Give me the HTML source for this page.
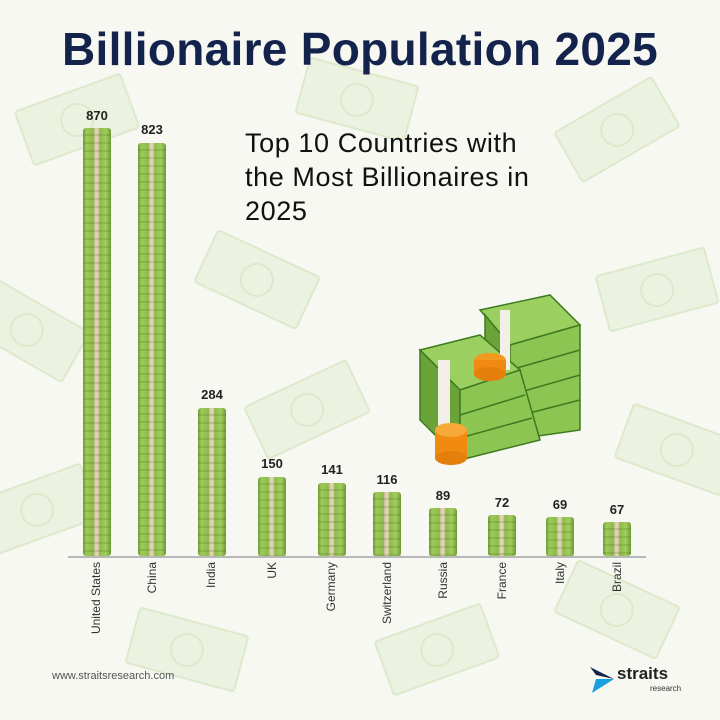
<!DOCTYPE html>
<html><head><style>
body{margin:0}
#c{width:720px;height:720px;position:relative;overflow:hidden;background:#f6f8f1;font-family:"Liberation Sans",sans-serif}
.bill{position:absolute;width:110px;height:55px;border:2px solid #dde9cc;background:#ebf2df;border-radius:4px}
.bill:after{content:"";position:absolute;left:38px;top:11px;width:30px;height:30px;border-radius:50%;border:2px solid #dde9cc}
.bar{position:absolute;width:28px;bottom:164px;border-radius:3px;
background:linear-gradient(90deg,#6f9c32 0,#9cc95a 12%,#8dbb4b 38%,#d9c7a6 42%,#e6d6b8 50%,#d9c7a6 55%,#8dbb4b 60%,#a2cd60 82%,#6f9c32 100%);}
.bar:after{content:"";position:absolute;inset:0;background:repeating-linear-gradient(180deg,rgba(255,255,255,0) 0,rgba(255,255,255,0) 6px,rgba(70,110,25,.4) 7px,rgba(255,255,255,0) 8px)}
.v{position:absolute;width:50px;text-align:center;font-weight:bold;font-size:13px;color:#222}
.l{position:absolute;top:562px;font-size:12px;color:#333;writing-mode:vertical-rl;transform:rotate(180deg);text-align:left}
</style></head><body><div id="c">
<div class="bill" style="left:20px;top:90px;transform:rotate(-20deg)"></div>
<div class="bill" style="left:300px;top:70px;transform:rotate(15deg)"></div>
<div class="bill" style="left:560px;top:100px;transform:rotate(-30deg)"></div>
<div class="bill" style="left:200px;top:250px;transform:rotate(25deg)"></div>
<div class="bill" style="left:600px;top:260px;transform:rotate(-15deg)"></div>
<div class="bill" style="left:250px;top:380px;transform:rotate(-25deg)"></div>
<div class="bill" style="left:620px;top:420px;transform:rotate(20deg)"></div>
<div class="bill" style="left:130px;top:620px;transform:rotate(15deg)"></div>
<div class="bill" style="left:380px;top:620px;transform:rotate(-20deg)"></div>
<div class="bill" style="left:560px;top:580px;transform:rotate(25deg)"></div>
<div class="bill" style="left:-30px;top:300px;transform:rotate(30deg)"></div>
<div class="bill" style="left:-20px;top:480px;transform:rotate(-20deg)"></div>
<div style="position:absolute;left:0;width:720px;top:22px;text-align:center;font-size:46px;font-weight:bold;color:#14234b;letter-spacing:0.3px">Billionaire Population 2025</div>
<div style="position:absolute;left:245px;top:126px;font-size:27px;line-height:34px;color:#111;letter-spacing:0.6px">Top 10 Countries with<br>the Most Billionaires in<br>2025</div>
<svg style="position:absolute;left:410px;top:290px" width="180" height="180">
<g stroke="#3f7a1f" stroke-width="1.5">
<polygon points="70,20 140,5 170,35 100,55" fill="#9bd060"/>
<polygon points="75,25 100,55 100,140 75,110" fill="#6aa338"/>
<polygon points="100,55 170,35 170,140 100,150" fill="#8cc552"/>
<line x1="100" y1="80" x2="170" y2="60"/><line x1="100" y1="105" x2="170" y2="85"/><line x1="100" y1="128" x2="170" y2="110"/>
<polygon points="10,60 70,45 110,80 50,100" fill="#9bd060"/>
<polygon points="10,60 50,100 50,170 10,130" fill="#6aa338"/>
<polygon points="50,100 110,80 130,150 50,170" fill="#8cc552"/>
<line x1="50" y1="125" x2="115" y2="105"/><line x1="50" y1="148" x2="122" y2="128"/>
</g>
<rect x="28" y="70" width="12" height="80" fill="#f2efe8"/>
<rect x="90" y="20" width="10" height="60" fill="#f2efe8"/>
<ellipse cx="80" cy="70" rx="16" ry="7" fill="#f29a1f"/><rect x="64" y="70" width="32" height="14" fill="#f08a10"/><ellipse cx="80" cy="84" rx="16" ry="7" fill="#e57f0c"/>
<rect x="25" y="140" width="32" height="28" fill="#f08a10"/><ellipse cx="41" cy="168" rx="16" ry="7" fill="#e57f0c"/><ellipse cx="41" cy="140" rx="16" ry="7" fill="#f6a838"/>
</svg>
<div style="position:absolute;left:68px;top:556px;width:578px;height:2px;background:#b8b8b8"></div>
<div class="bar" style="left:83px;height:428px"></div>
<div class="bar" style="left:138px;height:413px"></div>
<div class="bar" style="left:198px;height:148px"></div>
<div class="bar" style="left:258px;height:79px"></div>
<div class="bar" style="left:318px;height:73px"></div>
<div class="bar" style="left:373px;height:64px"></div>
<div class="bar" style="left:429px;height:48px"></div>
<div class="bar" style="left:488px;height:41px"></div>
<div class="bar" style="left:546px;height:39px"></div>
<div class="bar" style="left:603px;height:34px"></div>
<div class="v" style="left:72px;top:108px">870</div>
<div class="v" style="left:127px;top:122px">823</div>
<div class="v" style="left:187px;top:387px">284</div>
<div class="v" style="left:247px;top:456px">150</div>
<div class="v" style="left:307px;top:462px">141</div>
<div class="v" style="left:362px;top:472px">116</div>
<div class="v" style="left:418px;top:488px">89</div>
<div class="v" style="left:477px;top:495px">72</div>
<div class="v" style="left:535px;top:497px">69</div>
<div class="v" style="left:592px;top:502px">67</div>
<div class="l" style="left:89px">United States</div>
<div class="l" style="left:145px">China</div>
<div class="l" style="left:204px">India</div>
<div class="l" style="left:265px">UK</div>
<div class="l" style="left:324px">Germany</div>
<div class="l" style="left:380px">Switzerland</div>
<div class="l" style="left:436px">Russia</div>
<div class="l" style="left:495px">France</div>
<div class="l" style="left:553px">Italy</div>
<div class="l" style="left:610px">Brazil</div>
<div style="position:absolute;left:52px;top:670px;font-size:11px;color:#555">www.straitsresearch.com</div>
<svg style="position:absolute;left:588px;top:665px" width="30" height="30"><polygon points="2,2 26,14 8,10" fill="#14234b"/><polygon points="8,14 26,14 4,28" fill="#1aa0e0"/></svg>
<div style="position:absolute;left:617px;top:664px;font-size:17px;font-weight:bold;color:#222">straits</div>
<div style="position:absolute;left:650px;top:684px;font-size:8px;color:#333">research</div>
</div></body></html>
